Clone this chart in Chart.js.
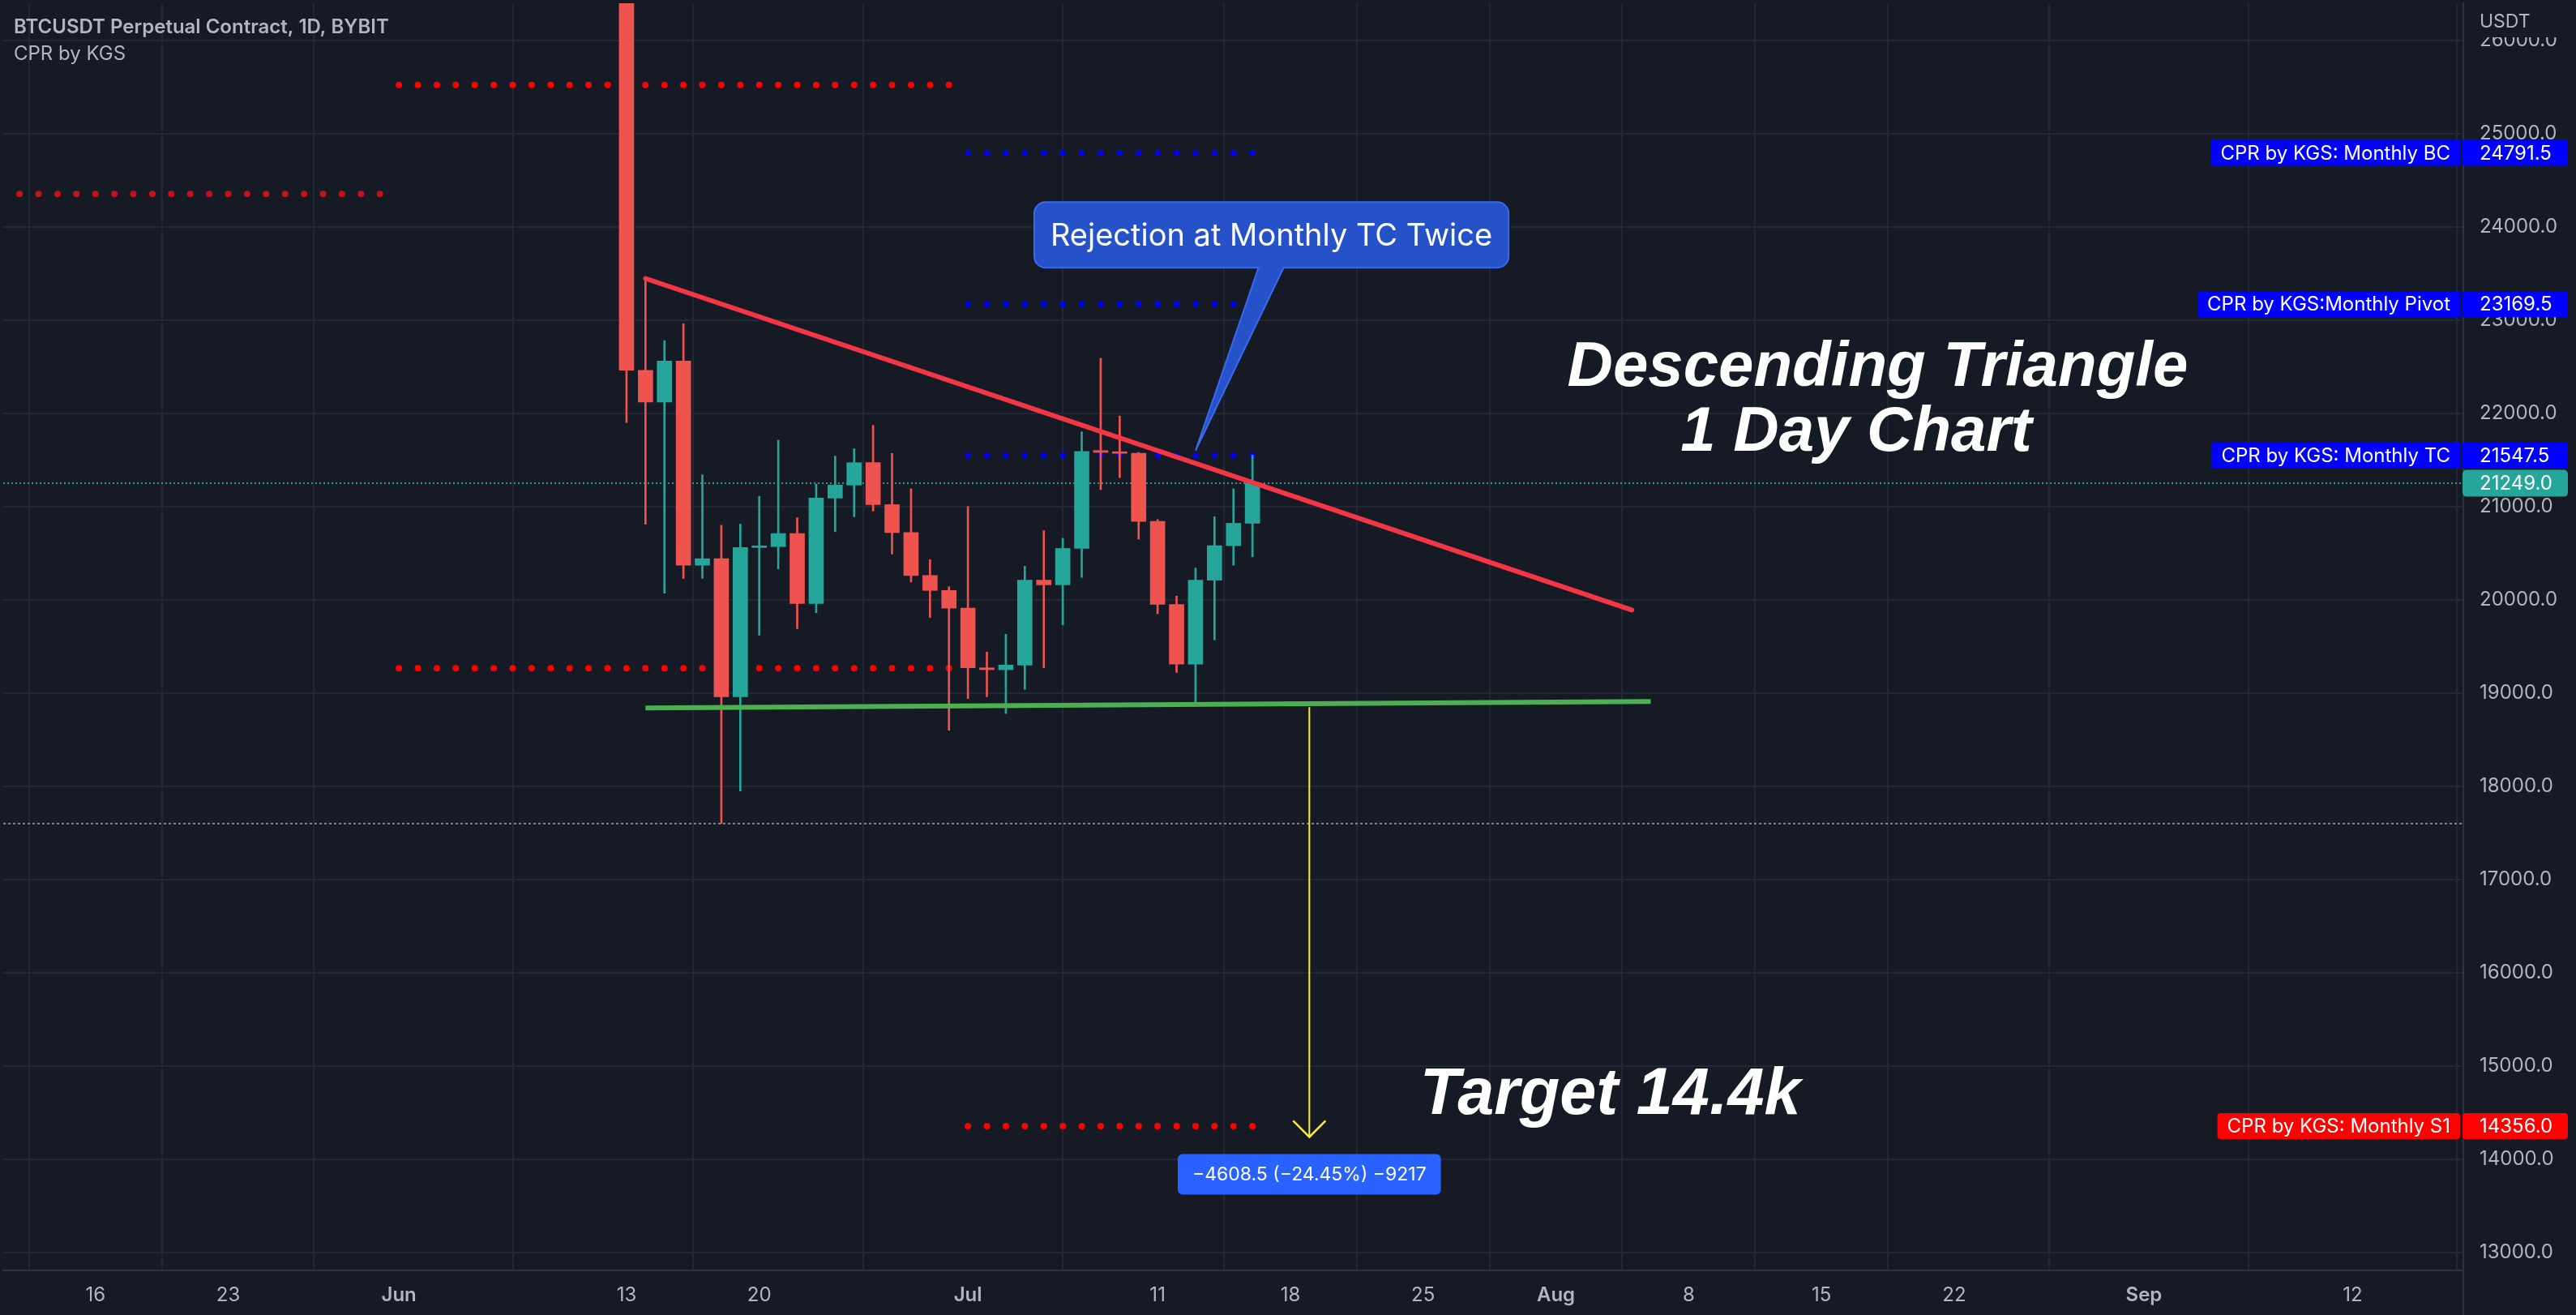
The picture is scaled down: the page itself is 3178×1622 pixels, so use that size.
<!DOCTYPE html>
<html><head><meta charset="utf-8">
<script src="https://cdn.jsdelivr.net/npm/chart.js@4.4.0/dist/chart.umd.min.js"></script>
<style>html,body{margin:0;padding:0;background:#161a25;overflow:hidden}canvas{display:block}</style>
</head><body><canvas id="c" width="3178" height="1622"></canvas>
<script>
// ---------------- DATA ----------------
const dates = ['2022-06-13','2022-06-14','2022-06-15','2022-06-16','2022-06-17','2022-06-18','2022-06-19','2022-06-20','2022-06-21','2022-06-22','2022-06-23','2022-06-24','2022-06-25','2022-06-26','2022-06-27','2022-06-28','2022-06-29','2022-06-30','2022-07-01','2022-07-02','2022-07-03','2022-07-04','2022-07-05','2022-07-06','2022-07-07','2022-07-08','2022-07-09','2022-07-10','2022-07-11','2022-07-12','2022-07-13','2022-07-14','2022-07-15','2022-07-16'];
const opens  = [26570,22460,22120,22560,20370,20440,18960,20560,20570,20710,19960,21090,21230,21470,21020,20720,20260,20100,19910,19270,19250,19300,20210,20160,20550,21600,21580,21570,20840,19950,19310,20210,20580,20820];
const highs  = [26880,23440,22780,22960,21340,20800,20810,21110,21710,20880,21240,21540,21620,21870,21570,21190,20430,20140,21000,19440,19630,20360,20740,20660,21800,22590,21970,21580,20860,20040,20340,20890,21190,21550];
const lows   = [21900,20810,20070,20230,20230,17600,17950,19620,20330,19690,19860,20730,20890,20950,20490,20190,19810,18600,18940,18960,18780,19040,19270,19730,20240,21180,21310,20650,19850,19220,18900,19570,20370,20460];
const closes = [22460,22120,22560,20370,20440,18960,20560,20570,20710,19960,21090,21230,21470,21020,20720,20260,20100,19910,19270,19250,19300,20210,20160,20550,21590,21580,21570,20840,19950,19310,20210,20580,20820,21249];

const tickDates  = ['2022-05-16','2022-05-23','2022-06-01','2022-06-13','2022-06-20','2022-07-01','2022-07-11','2022-07-18','2022-07-25','2022-08-01','2022-08-08','2022-08-15','2022-08-22','2022-09-01','2022-09-12'];
const tickLabels = ['16','23','Jun','13','20','Jul','11','18','25','Aug','8','15','22','Sep','12'];
const monthLabels = ['Jun','Jul','Aug','Sep'];
const priceTicks = [13000,14000,15000,16000,17000,18000,19000,20000,21000,22000,23000,24000,25000,26000];

// CPR by KGS monthly levels (dotted plots)
const mayRange  = ['2022-05-12','2022-05-31'];
const juneRange = ['2022-06-01','2022-06-30'];
const julyRange = ['2022-07-01','2022-07-16'];
const mayLevel   = [24350];
const juneLevels = [25520, 19265];
const julyBlueLevels = [24791.5, 23169.5, 21547.5]; // BC, Pivot, TC
const julyS1 = [14356];

const axisTagNames  = ['CPR by KGS: Monthly BC','CPR by KGS:Monthly Pivot','CPR by KGS: Monthly TC','CPR by KGS: Monthly S1'];
const axisTagValues = [24791.5, 23169.5, 21547.5, 14356.0];
const lastPrice = [21249.0];
const lowLine = [17600];

// drawings
const resistDates = ['2022-06-14','2022-08-05'];
const resistValues = [23445, 19890];
const supportDates = ['2022-06-14','2022-08-06'];
const supportValues = [18840, 18910];
const arrowDate = ['2022-07-19','2022-07-19'];
const arrowValues = [18848.5, 14240];
const measureText = '\u22124608.5 (\u221224.45%) \u22129217';
const calloutText = 'Rejection at Monthly TC Twice';
const calloutTip = ['2022-07-13', 21600];
const calloutCenter = ['2022-07-17', 23912];
const bigTexts = [
  {t:'Descending Triangle', d:'2022-08-01', v:22295, dx:0.6},
  {t:'1 Day Chart', d:'2022-08-07', v:21601, dx:0.57},
  {t:'Target 14.4k', d:'2022-07-24', v:14491, dx:0.83}
];

// ---------------- HELPERS ----------------
const DAY = 86400000, BASE = Date.UTC(2022,5,13);
function dayOf(s){const [y,m,d]=s.split('-').map(Number);return (Date.UTC(y,m-1,d)-BASE)/DAY;}
function span(r){const a=[];for(let d=dayOf(r[0]);d<=dayOf(r[1]);d++)a.push(d);return a;}
const UP='#26a69a', DOWN='#ef5350', BG='#161a25', GRID='#232733', TXT='#b2b5be', FONT='Inter, Roboto, sans-serif';
const candleCol = opens.map((o,i)=> closes[i]>=o ? UP : DOWN);

function dots(range, level, color, r){
  return {type:'line', showLine:false, order:5, data: span(range).map(x=>({x, y:level})),
    pointRadius:r, pointBackgroundColor:color, pointBorderWidth:0, pointHoverRadius:0};
}
const XMIN=-32.86, XMAX=96.84;

const datasets = [
  {type:'bar', order:1, data: dates.map((d,i)=>({x:dayOf(d), y:[lows[i],highs[i]]})), backgroundColor:candleCol, barThickness:2, borderWidth:0},
  {type:'bar', order:0, data: dates.map((d,i)=>({x:dayOf(d), y:[opens[i],closes[i]]})), backgroundColor:candleCol, barThickness:18, minBarLength:2, borderWidth:0},
  dots(mayRange, mayLevel[0], '#bd1420', 4),
  dots(juneRange, juneLevels[0], '#ff0000', 4),
  dots(juneRange, juneLevels[1], '#ff0000', 4),
  ...julyBlueLevels.map(l=>dots(julyRange, l, '#0000ff', 3.6)),
  dots(julyRange, julyS1[0], '#ff0000', 4),
  {type:'line', order:6, data:[{x:XMIN,y:lastPrice[0]},{x:XMAX,y:lastPrice[0]}], borderColor:'rgba(38,166,154,0.9)', borderWidth:2, borderDash:[2,3], pointRadius:0},
  {type:'line', order:6, data:[{x:XMIN,y:lowLine[0]},{x:XMAX,y:lowLine[0]}], borderColor:'rgba(150,153,162,0.85)', borderWidth:2, borderDash:[3,3], pointRadius:0},
  {type:'line', order:-2, data: resistDates.map((d,i)=>({x:dayOf(d), y:resistValues[i]})), borderColor:'#f23645', borderWidth:6, borderCapStyle:'round', pointRadius:0},
  {type:'line', order:-2, data: supportDates.map((d,i)=>({x:dayOf(d), y:supportValues[i]})), borderColor:'#4caf50', borderWidth:6, pointRadius:0},
  {type:'line', order:-3, data: arrowDate.map((d,i)=>({x:dayOf(d), y:arrowValues[i]})), borderColor:'#ffeb3b', borderWidth:2, pointRadius:0}
];

function rrect(ctx,x,y,w,h,r){ctx.beginPath();ctx.moveTo(x+r,y);ctx.arcTo(x+w,y,x+w,y+h,r);ctx.arcTo(x+w,y+h,x,y+h,r);ctx.arcTo(x,y+h,x,y,r);ctx.arcTo(x,y,x+w,y,r);ctx.closePath();}

const overlay = {
  id:'overlay',
  beforeDraw(chart){const c=chart.ctx;c.save();c.fillStyle=BG;c.fillRect(0,0,chart.width,chart.height);c.restore();},
  afterDraw(chart){
    const c=chart.ctx, xs=chart.scales.x, ys=chart.scales.y, ca=chart.chartArea;
    c.save();
    // arrow head
    const ax=xs.getPixelForValue(dayOf(arrowDate[1])), ay=ys.getPixelForValue(arrowValues[1]);
    c.strokeStyle='#ffeb3b'; c.lineWidth=2.5; c.lineJoin='miter';
    c.beginPath(); c.moveTo(ax-20,ay-20); c.lineTo(ax,ay); c.lineTo(ax+20,ay-20); c.stroke();
    // measure box
    c.font='23px '+FONT; const mw=c.measureText(measureText).width;
    const bw=mw+36, bh=50, bx=ax-bw/2, by=ay+21;
    c.fillStyle='#2962ff'; rrect(c,bx,by,bw,bh,6); c.fill();
    c.fillStyle='#ffffff'; c.textAlign='center'; c.textBaseline='middle'; c.fillText(measureText, ax, by+bh/2+1);
    // callout
    c.font='38px '+FONT; const tw=c.measureText(calloutText).width;
    const cx=xs.getPixelForValue(dayOf(calloutCenter[0])), cy=ys.getPixelForValue(calloutCenter[1]);
    const w=tw+40, h=81, x0=cx-w/2, y0=cy-h/2, r=14;
    const tx=xs.getPixelForValue(dayOf(calloutTip[0])), ty=ys.getPixelForValue(calloutTip[1]);
    c.beginPath();
    c.moveTo(x0+r,y0); c.arcTo(x0+w,y0,x0+w,y0+h,r); c.arcTo(x0+w,y0+h,x0,y0+h,r);
    c.lineTo(cx+15,y0+h); c.lineTo(tx,ty); c.lineTo(cx-16,y0+h);
    c.arcTo(x0,y0+h,x0,y0,r); c.arcTo(x0,y0,x0+w,y0,r); c.closePath();
    c.fillStyle='#2552c8'; c.fill(); c.strokeStyle='#3a68ee'; c.lineWidth=2; c.stroke();
    c.fillStyle='#ffffff'; c.fillText(calloutText, cx, cy+2);
    // big italic texts
    c.textAlign='left'; c.textBaseline='alphabetic'; c.fillStyle='#ffffff';
    bigTexts.forEach(b=>{
      c.font='italic bold '+(b.t.startsWith('Target')?81:78)+'px "Liberation Sans", Arial, sans-serif';
      c.fillText(b.t, xs.getPixelForValue(dayOf(b.d)+b.dx), ys.getPixelForValue(b.v));
    });
    // right axis tags
    const colors=['#0000ff','#0000ff','#0000ff','#ff0000'];
    c.font='24px '+FONT; c.textBaseline='middle';
    axisTagValues.forEach((v,i)=>{
      const y=ys.getPixelForValue(v), lw=c.measureText(axisTagNames[i]).width;
      const rad = i===3?4:0;
      c.fillStyle=colors[i];
      rrect(c, ca.right-4-lw-24, y-16, lw+24, 32, rad); c.fill();
      rrect(c, ca.right-1, y-16, 130, 32, rad); c.fill();
      c.fillStyle='#ffffff'; c.textAlign='right'; c.fillText(axisTagNames[i], ca.right-16, y+1);
      c.textAlign='left'; c.fillText(v.toFixed(1), ca.right+20, y+1);
    });
    // last price tag
    const py=ys.getPixelForValue(lastPrice[0]);
    c.fillStyle=UP; rrect(c, ca.right-1, py-16.5, 130, 33, 5); c.fill();
    c.fillStyle='#ffffff'; c.textAlign='left'; c.fillText(lastPrice[0].toFixed(1), ca.right+20, py+1);
    // header USDT
    c.fillStyle=BG; c.fillRect(ca.right+2,0,chart.width-ca.right,46);
    c.fillStyle=TXT; c.font='23px '+FONT; c.textBaseline='middle'; c.fillText('USDT', ca.right+20, 27);
    // axis separator down through the time axis
    c.strokeStyle='#2e323e'; c.lineWidth=2; c.beginPath(); c.moveTo(ca.right,ca.bottom); c.lineTo(ca.right,chart.height); c.stroke();
    // title
    c.textBaseline='alphabetic'; c.fillStyle=TXT;
    c.font='600 24px '+FONT; c.fillText('BTCUSDT Perpetual Contract, 1D, BYBIT', 17, 41);
    c.font='24px '+FONT; c.fillText('CPR by KGS', 17, 74);
    c.restore();
  }
};

new Chart(document.getElementById('c'), {
  type:'bar',
  data:{datasets},
  plugins:[overlay],
  options:{
    responsive:false, animation:false, devicePixelRatio:1,
    layout:{padding:0},
    datasets:{bar:{grouped:false}},
    plugins:{legend:{display:false}, tooltip:{enabled:false}, title:{display:false}},
    scales:{
      x:{type:'linear', min:XMIN, max:XMAX, offset:false,
        grid:{color:GRID, lineWidth:2, drawTicks:false},
        border:{color:'#2e323e', width:2},
        ticks:{color:TXT, padding:16, autoSkip:false, maxRotation:0,
          font:(ctx)=>({family:FONT, size:24, weight: monthLabels.includes(tickLabels[ctx.index])?'600':'400'}),
          callback:(v,i)=>tickLabels[i]},
        afterBuildTicks:(s)=>{s.ticks=tickDates.map(d=>({value:dayOf(d)}));},
        afterFit:(s)=>{s.height=55; s.paddingLeft=0; s.paddingRight=0;}
      },
      y:{type:'linear', position:'right', min:12809, max:26396,
        grid:{color:GRID, lineWidth:2, drawTicks:false},
        border:{color:'#2e323e', width:2},
        ticks:{color:TXT, padding:20, autoSkip:false, font:{family:FONT, size:24},
          callback:(v)=>Number(v).toFixed(1)},
        afterBuildTicks:(s)=>{s.ticks=priceTicks.map(v=>({value:v}));},
        afterFit:(s)=>{s.width=139; s.paddingTop=0; s.paddingBottom=0;}
      }
    }
  }
});
</script></body></html>
